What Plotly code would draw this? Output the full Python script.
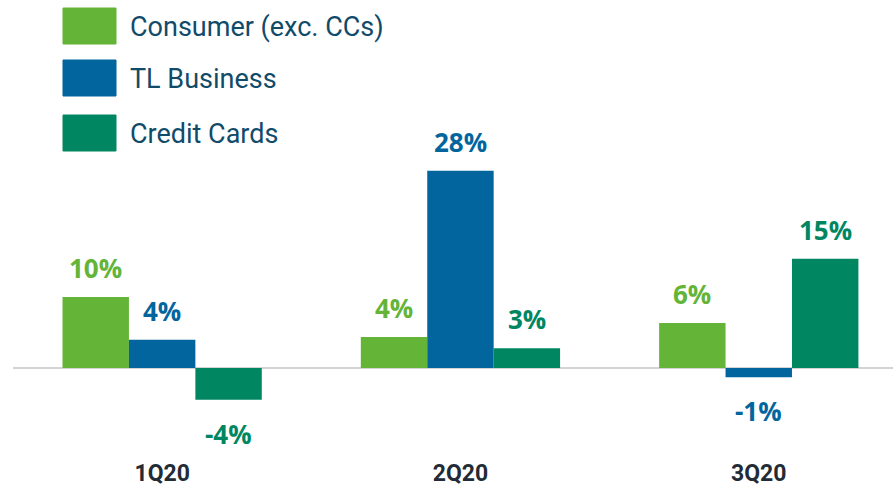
import plotly.graph_objects as go

categories = ["1Q20", "2Q20", "3Q20"]
series_names = ["Consumer (exc. CCs)", "TL Business", "Credit Cards"]
consumer = [10.1, 4.4, 6.4]
tl_business = [4.0, 28.0, -1.3]
credit_cards = [-4.5, 2.8, 15.5]
consumer_labels = ["10%", "4%", "6%"]
tl_labels = ["4%", "28%", "-1%"]
cc_labels = ["-4%", "3%", "15%"]

colors = ["#63B437", "#03659D", "#008761"]
values = [consumer, tl_business, credit_cards]
labels = [consumer_labels, tl_labels, cc_labels]

W, H = 893, 488
ML, MR, MT, MB = 13, 0, 10, 28
PW, PH = W - ML - MR, H - MT - MB

def px2x(px):
    return (px - ML) / PW

def px2y(py):
    return (H - MB - py) / PH

fig = go.Figure()
x_idx = list(range(len(categories)))
for name, vals, col in zip(series_names, values, colors):
    fig.add_trace(go.Bar(x=x_idx, y=vals, name=name, marker=dict(color=col, line=dict(width=0)),
                         showlegend=False, hoverinfo="skip"))

bar_w = 0.2228
offsets = [-bar_w, 0, bar_w]
annotations = []
for vals, labs, col, off in zip(values, labels, colors, offsets):
    for i, (v, t) in enumerate(zip(vals, labs)):
        annotations.append(dict(x=i + off, y=v, xref="x", yref="y", text=t, showarrow=False,
                                yshift=29 if v >= 0 else -34,
                                font=dict(family="Open Sans", size=26, color=col, weight="bold")))

# custom legend
shapes = []
row_tops = [8, 60, 115]
for name, col, top in zip(series_names, colors, row_tops):
    x0, x1, y0, y1 = px2x(63), px2x(116), px2y(top), px2y(top + 36)
    shapes.append(dict(type="rect", xref="paper", yref="paper", x0=x0, x1=x1, y0=y0, y1=y1,
                       fillcolor=col, line=dict(color=col, width=1), layer="above"))
    annotations.append(dict(x=px2x(128), y=px2y(top + 19), xref="paper", yref="paper",
                            xanchor="left", yanchor="middle", text=name, showarrow=False,
                            font=dict(family="Roboto", size=27, color="#114B6A")))

fig.update_layout(
    width=W, height=H,
    margin=dict(l=ML, r=MR, t=MT, b=MB),
    paper_bgcolor="white", plot_bgcolor="white",
    barmode="group", bargap=0.332, bargroupgap=0,
    shapes=shapes, annotations=annotations,
    xaxis=dict(range=[-0.5, 2.45], tickvals=x_idx, ticktext=categories, showgrid=False,
               zeroline=False, showline=False, ticks="", automargin=False,
               ticklabelstandoff=-3,
               tickfont=dict(family="Roboto", size=23, color="#222B36", weight="bold")),
    yaxis=dict(range=[-13.07, 50.85], showgrid=False, showticklabels=False, ticks="",
               automargin=False,
               zeroline=True, zerolinecolor="#D3D3D3", zerolinewidth=1.5, showline=False),
)

fig.write_html("out.html", config={"displayModeBar": False},
               post_script="document.body.style.margin='0';document.body.style.overflow='hidden';")
